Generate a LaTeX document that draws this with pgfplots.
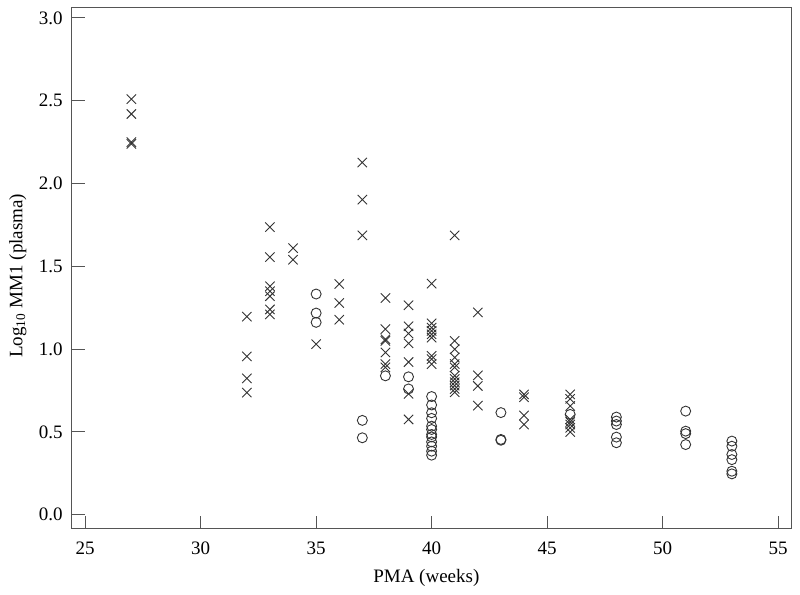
\documentclass[border=0pt]{standalone}
\usepackage{fontspec}
\setmainfont{Liberation Serif}
\usepackage{pgfplots}
\pgfplotsset{compat=1.18}

\definecolor{axisgray}{HTML}{555555}
\definecolor{markgray}{HTML}{333333}

\begin{document}
\begin{tikzpicture}[font=\fontsize{9.5}{11}\selectfont]
\begin{axis}[
    name=ax,
    scale only axis,
    width=359.7pt, height=260.5pt,
    xmin=24.42, xmax=55.56,
    ymin=-0.085, ymax=3.06,
    xtick={25,30,...,55},
    ytick={0,0.5,...,3},
    yticklabel style={xshift=-1pt,/pgf/number format/.cd,fixed,fixed zerofill,precision=1},
    xticklabel style={yshift=-3pt},
    /pgf/number format/assume math mode=true,
    tick align=inside,
    xtick pos=left, ytick pos=left,
    major tick length=6.5pt,
    axis line style={axisgray, line width=0.5pt},
    tick style={axisgray, line width=0.5pt},
    xlabel={PMA (weeks)},
    ylabel={Log\textsubscript{10} MM1 (plasma)},
    xlabel style={at={(axis description cs:0.493,-0.094)}, anchor=center},
    ylabel style={at={(axis description cs:-0.075,0.486)}, anchor=center},
    clip=false,
]
% crosses
\addplot[only marks, mark=x, mark size=3.3pt, mark options={markgray, line width=0.45pt}] coordinates {
(27,2.51) (27,2.42) (27,2.25) (27,2.24)
(32,1.196) (32,0.956) (32,0.824) (32,0.738)
(33,1.737) (33,1.556) (33,1.38) (33,1.35) (33,1.32) (33,1.24) (33,1.21)
(34,1.61) (34,1.54)
(35,1.03)
(36,1.394) (36,1.279) (36,1.178)
(37,2.127) (37,1.903) (37,1.687)
(38,1.309) (38,1.121) (38,1.06) (38,1.05) (38,0.98) (38,0.91) (38,0.89)
(39,1.265) (39,1.138) (39,1.095) (39,1.035) (39,0.922) (39,0.73) (39,0.576)
(40,1.396) (40,1.156) (40,1.13) (40,1.11) (40,1.09) (40,1.07) (40,0.96) (40,0.94) (40,0.91)
(41,1.687) (41,1.05) (41,1.0) (41,0.95) (41,0.91) (41,0.89) (41,0.84) (41,0.82) (41,0.80) (41,0.78) (41,0.76) (41,0.74)
(42,1.222) (42,0.842) (42,0.778) (42,0.659)
(44,0.727) (44,0.71) (44,0.60) (44,0.545)
(46,0.727) (46,0.70) (46,0.657) (46,0.576) (46,0.56) (46,0.545) (46,0.525) (46,0.50)
};
% circles
\addplot[only marks, mark=o, mark size=2.5pt, mark options={markgray, line width=0.45pt}] coordinates {
(35,1.333) (35,1.218) (35,1.162)
(37,0.570) (37,0.465)
(38,0.839)
(39,0.833) (39,0.76)
(40,0.714) (40,0.663) (40,0.616) (40,0.582) (40,0.535) (40,0.515) (40,0.485) (40,0.47) (40,0.44) (40,0.414) (40,0.384) (40,0.36)
(43,0.617) (43,0.455) (43,0.45)
(46,0.606)
(48,0.59) (48,0.566) (48,0.545) (48,0.469) (48,0.435)
(51,0.626) (51,0.505) (51,0.49) (51,0.424)
(53,0.445) (53,0.414) (53,0.364) (53,0.333) (53,0.263) (53,0.247)
};
\end{axis}
\pgfresetboundingbox
\path ([shift={(-35.9pt,-33pt)}]ax.south west) rectangle ([shift={(4.5pt,4pt)}]ax.north east);
\end{tikzpicture}
\end{document}
